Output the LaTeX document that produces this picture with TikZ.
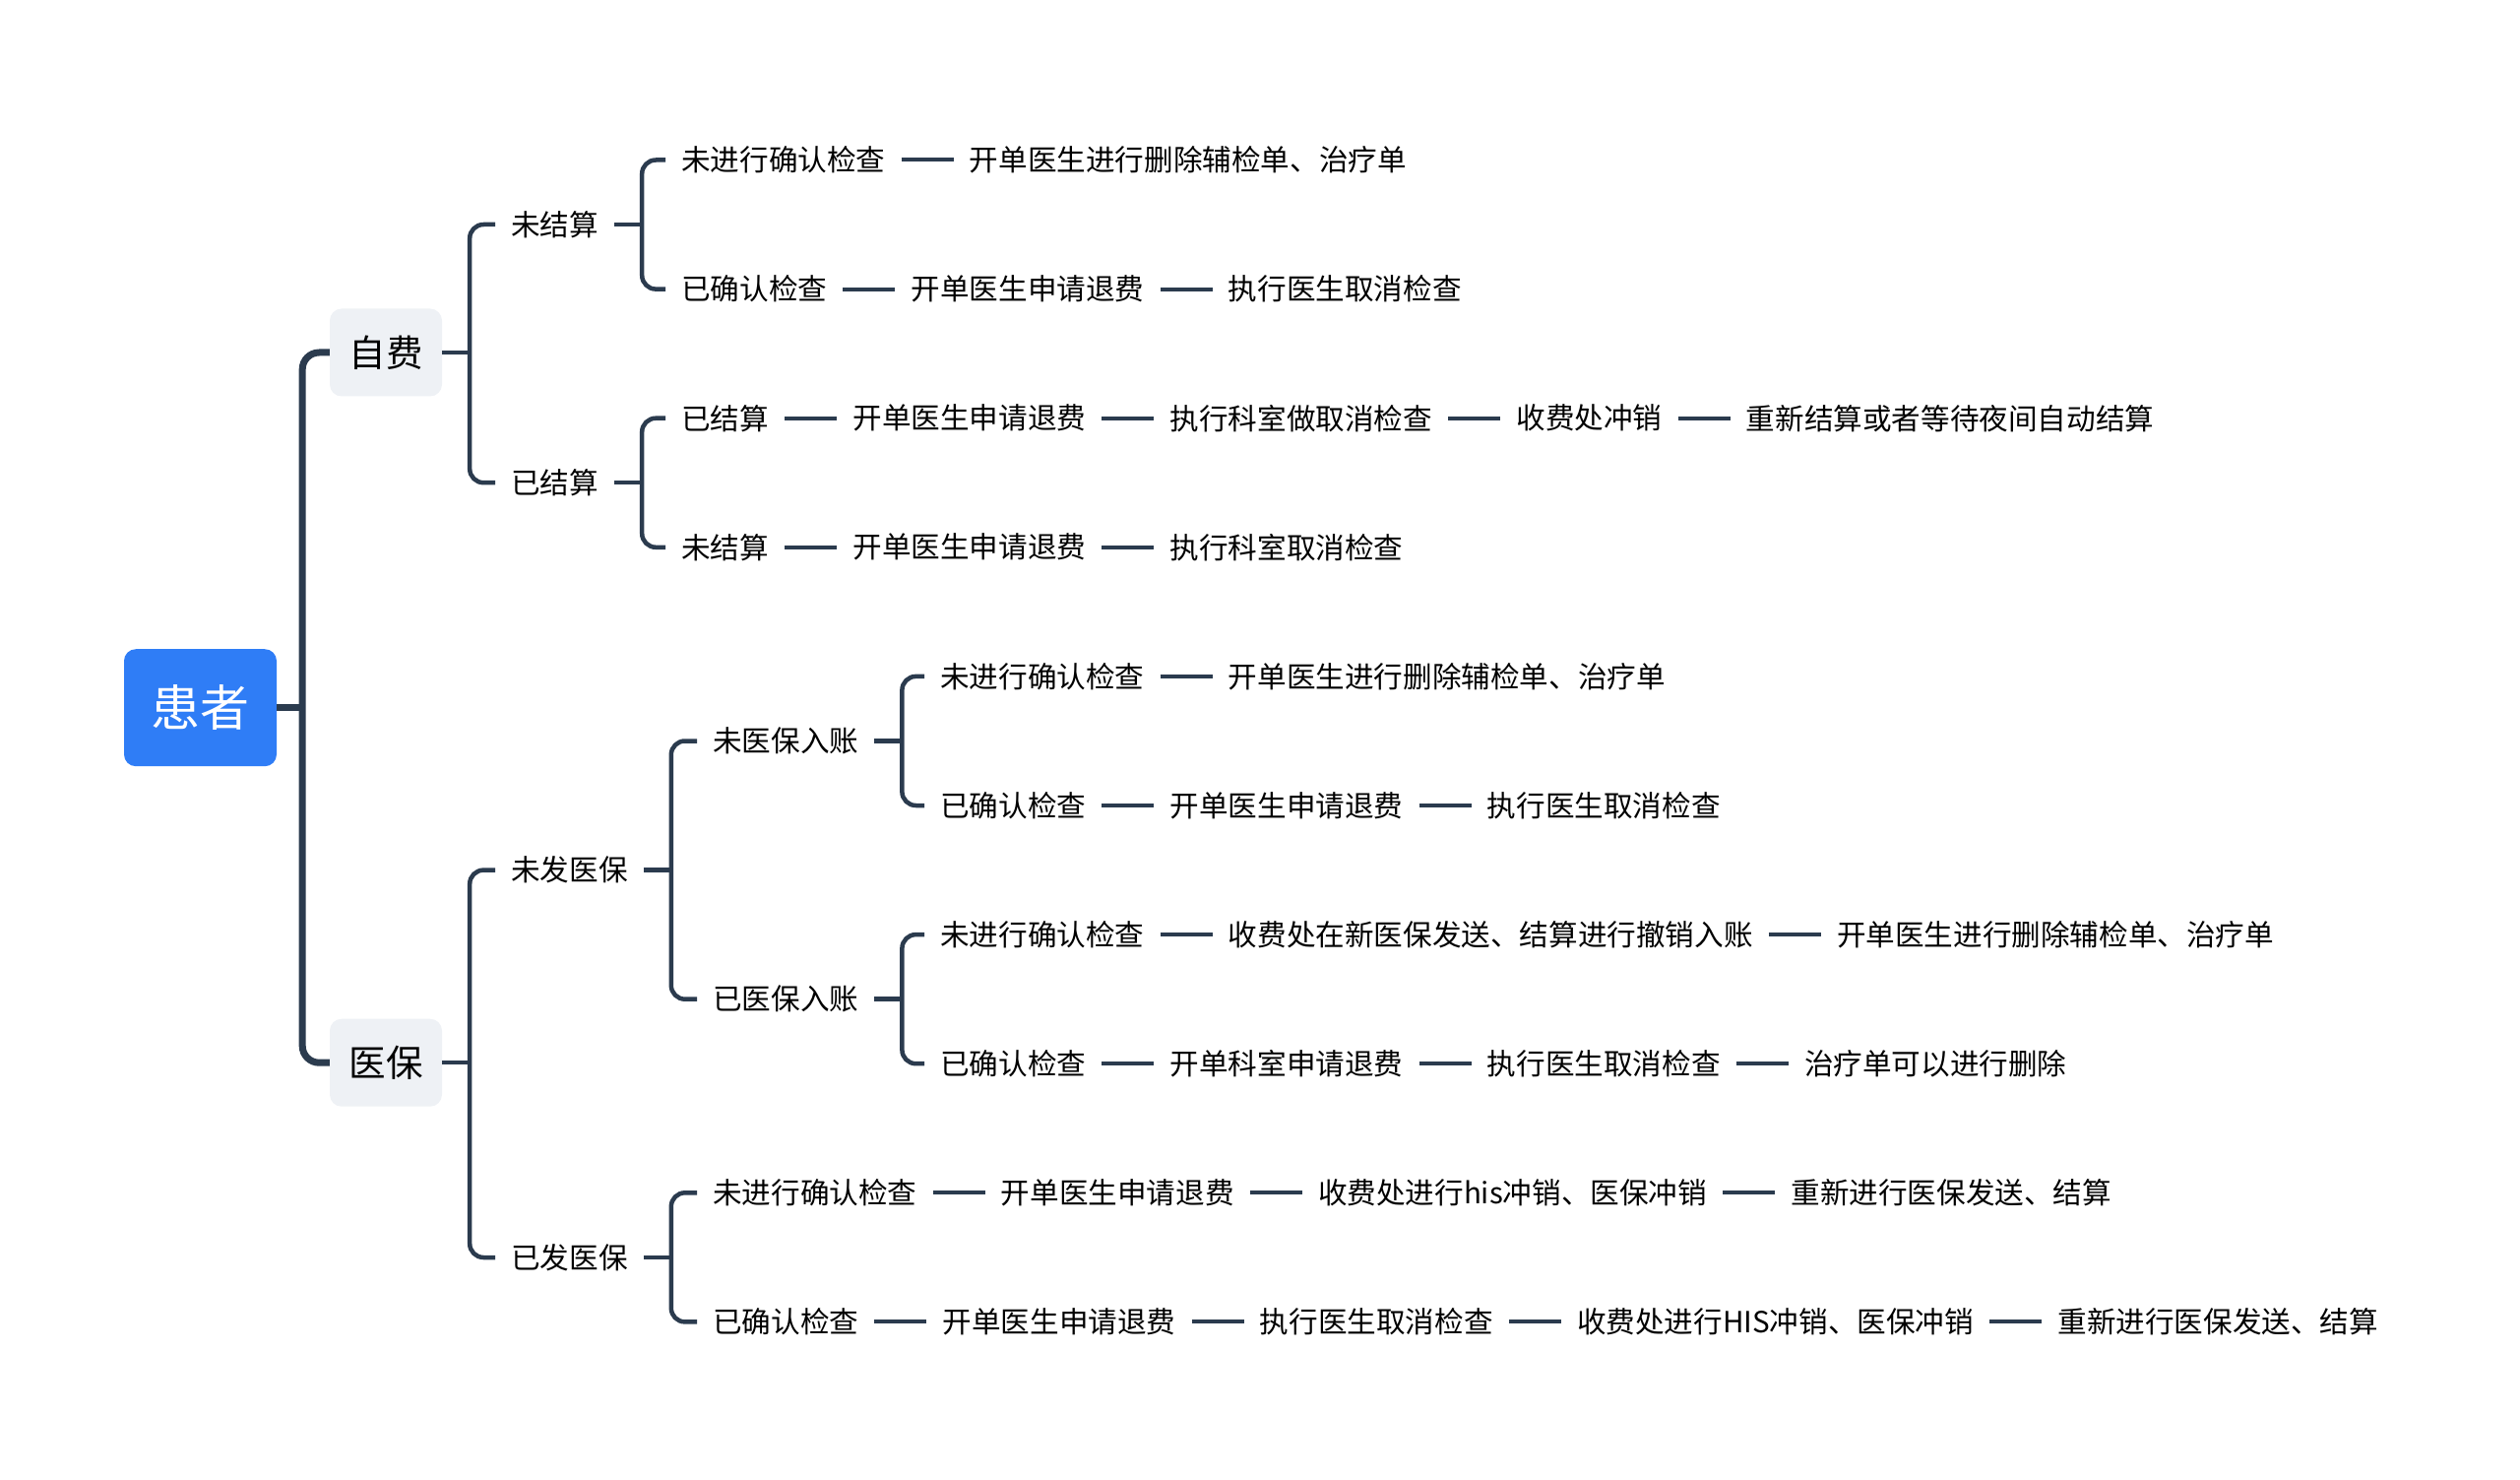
\documentclass[tikz,border=0pt]{standalone}
\usepackage{fontspec}
\setmainfont{Noto Sans CJK SC}
\usetikzlibrary{positioning}

\definecolor{rootblue}{HTML}{2F7DF6}
\definecolor{topicgray}{HTML}{EEF1F5}
\definecolor{linenavy}{HTML}{2B3B4E}

\begin{document}
\begin{tikzpicture}[x=1pt,y=-1pt]
\tikzstyle{every node}+=[inner xsep=16pt, inner ysep=3pt, font=\fontsize{29.6}{34}\selectfont]
\tikzstyle{rootbox}=[fill=rootblue, text=white, rounded corners=12pt, minimum width=155pt, minimum height=119pt, inner sep=0pt, font=\fontsize{50}{56}\selectfont]
\tikzstyle{topicbox}=[fill=topicgray, rounded corners=12pt, minimum width=114pt, minimum height=89pt, inner sep=0pt, font=\fontsize{37.5}{42}\selectfont]
\tikzstyle{branch}=[draw=linenavy, line width=4.5pt, rounded corners=14pt]
\tikzstyle{trunk}=[draw=linenavy, line width=7pt, rounded corners=17pt]
\tikzstyle{link}=[draw=linenavy, line width=4pt]
\useasboundingbox (0,0) rectangle (2560,1503);

\node [rootbox] (hz) at (203.5,718.7) {患者};
\node [topicbox] (zf) at (392,358) {自费};
\node [topicbox] (yb) at (392,1079.2) {医保};
\coordinate (hzj) at ([xshift=26pt]hz.east);
\draw [trunk] (hz.east) -- (hzj);
\draw [trunk] (zf.west) -| (hzj) |- (yb.west);

\node [anchor=west] (wjs) at (503,228) {未结算};
\node [anchor=west] (yjs) at (503,490.2) {已结算};
\coordinate (zfj) at ([xshift=28pt]zf.east);
\draw [branch] (zf.east) -- (zfj);
\draw [branch] (wjs.west) -| (zfj) |- (yjs.west);

\node [anchor=west] (wfyb) at (503,883.6) {未发医保};
\node [anchor=west] (yfyb) at (503,1277) {已发医保};
\coordinate (ybj) at ([xshift=28pt]yb.east);
\draw [branch] (yb.east) -- (ybj);
\draw [branch] (wfyb.west) -| (ybj) |- (yfyb.west);

\node [anchor=west] (wybrz) at (708,752.5) {未医保入账};
\node [anchor=west] (yybrz) at (708,1014.7) {已医保入账};
\coordinate (wfybj) at ([xshift=28pt]wfyb.east);
\draw [branch] (wfyb.east) -- (wfybj);
\draw [branch] (wybrz.west) -| (wfybj) |- (yybrz.west);

\node [anchor=west] (r1a) at (676,162.5) {未进行确认检查};
\node [right=53pt of r1a] (r1b) {开单医生进行删除辅检单、治疗单};
\draw [link] (r1a) -- (r1b);
\node [anchor=west] (r2a) at (676,293.6) {已确认检查};
\node [right=53pt of r2a] (r2b) {开单医生申请退费};
\node [right=53pt of r2b] (r2c) {执行医生取消检查};
\draw [link] (r2a) -- (r2b);
\draw [link] (r2b) -- (r2c);
\coordinate (wjsj) at ([xshift=28pt]wjs.east);
\draw [branch] (wjs.east) -- (wjsj);
\draw [branch] (r1a.west) -| (wjsj) |- (r2a.west);

\node [anchor=west] (r3a) at (676,424.7) {已结算};
\node [right=53pt of r3a] (r3b) {开单医生申请退费};
\node [right=53pt of r3b] (r3c) {执行科室做取消检查};
\node [right=53pt of r3c] (r3d) {收费处冲销};
\node [right=53pt of r3d] (r3e) {重新结算或者等待夜间自动结算};
\draw [link] (r3a) -- (r3b);
\draw [link] (r3b) -- (r3c);
\draw [link] (r3c) -- (r3d);
\draw [link] (r3d) -- (r3e);
\node [anchor=west] (r4a) at (676,555.8) {未结算};
\node [right=53pt of r4a] (r4b) {开单医生申请退费};
\node [right=53pt of r4b] (r4c) {执行科室取消检查};
\draw [link] (r4a) -- (r4b);
\draw [link] (r4b) -- (r4c);
\coordinate (yjsj) at ([xshift=28pt]yjs.east);
\draw [branch] (yjs.east) -- (yjsj);
\draw [branch] (r3a.west) -| (yjsj) |- (r4a.west);

\node [anchor=west] (r5a) at (939,686.9) {未进行确认检查};
\node [right=53pt of r5a] (r5b) {开单医生进行删除辅检单、治疗单};
\draw [link] (r5a) -- (r5b);
\node [anchor=west] (r6a) at (939,818) {已确认检查};
\node [right=53pt of r6a] (r6b) {开单医生申请退费};
\node [right=53pt of r6b] (r6c) {执行医生取消检查};
\draw [link] (r6a) -- (r6b);
\draw [link] (r6b) -- (r6c);
\coordinate (wybrzj) at ([xshift=28pt]wybrz.east);
\draw [branch] (wybrz.east) -- (wybrzj);
\draw [branch] (r5a.west) -| (wybrzj) |- (r6a.west);

\node [anchor=west] (r7a) at (939,949.1) {未进行确认检查};
\node [right=53pt of r7a] (r7b) {收费处在新医保发送、结算进行撤销入账};
\node [right=53pt of r7b] (r7c) {开单医生进行删除辅检单、治疗单};
\draw [link] (r7a) -- (r7b);
\draw [link] (r7b) -- (r7c);
\node [anchor=west] (r8a) at (939,1080.2) {已确认检查};
\node [right=53pt of r8a] (r8b) {开单科室申请退费};
\node [right=53pt of r8b] (r8c) {执行医生取消检查};
\node [right=53pt of r8c] (r8d) {治疗单可以进行删除};
\draw [link] (r8a) -- (r8b);
\draw [link] (r8b) -- (r8c);
\draw [link] (r8c) -- (r8d);
\coordinate (yybrzj) at ([xshift=28pt]yybrz.east);
\draw [branch] (yybrz.east) -- (yybrzj);
\draw [branch] (r7a.west) -| (yybrzj) |- (r8a.west);

\node [anchor=west] (r9a) at (708,1211.3) {未进行确认检查};
\node [right=53pt of r9a] (r9b) {开单医生申请退费};
\node [right=53pt of r9b] (r9c) {收费处进行his冲销、医保冲销};
\node [right=53pt of r9c] (r9d) {重新进行医保发送、结算};
\draw [link] (r9a) -- (r9b);
\draw [link] (r9b) -- (r9c);
\draw [link] (r9c) -- (r9d);
\node [anchor=west] (r10a) at (708,1342.4) {已确认检查};
\node [right=53pt of r10a] (r10b) {开单医生申请退费};
\node [right=53pt of r10b] (r10c) {执行医生取消检查};
\node [right=53pt of r10c] (r10d) {收费处进行HIS冲销、医保冲销};
\node [right=53pt of r10d] (r10e) {重新进行医保发送、结算};
\draw [link] (r10a) -- (r10b);
\draw [link] (r10b) -- (r10c);
\draw [link] (r10c) -- (r10d);
\draw [link] (r10d) -- (r10e);
\coordinate (yfybj) at ([xshift=28pt]yfyb.east);
\draw [branch] (yfyb.east) -- (yfybj);
\draw [branch] (r9a.west) -| (yfybj) |- (r10a.west);
\end{tikzpicture}
\end{document}
